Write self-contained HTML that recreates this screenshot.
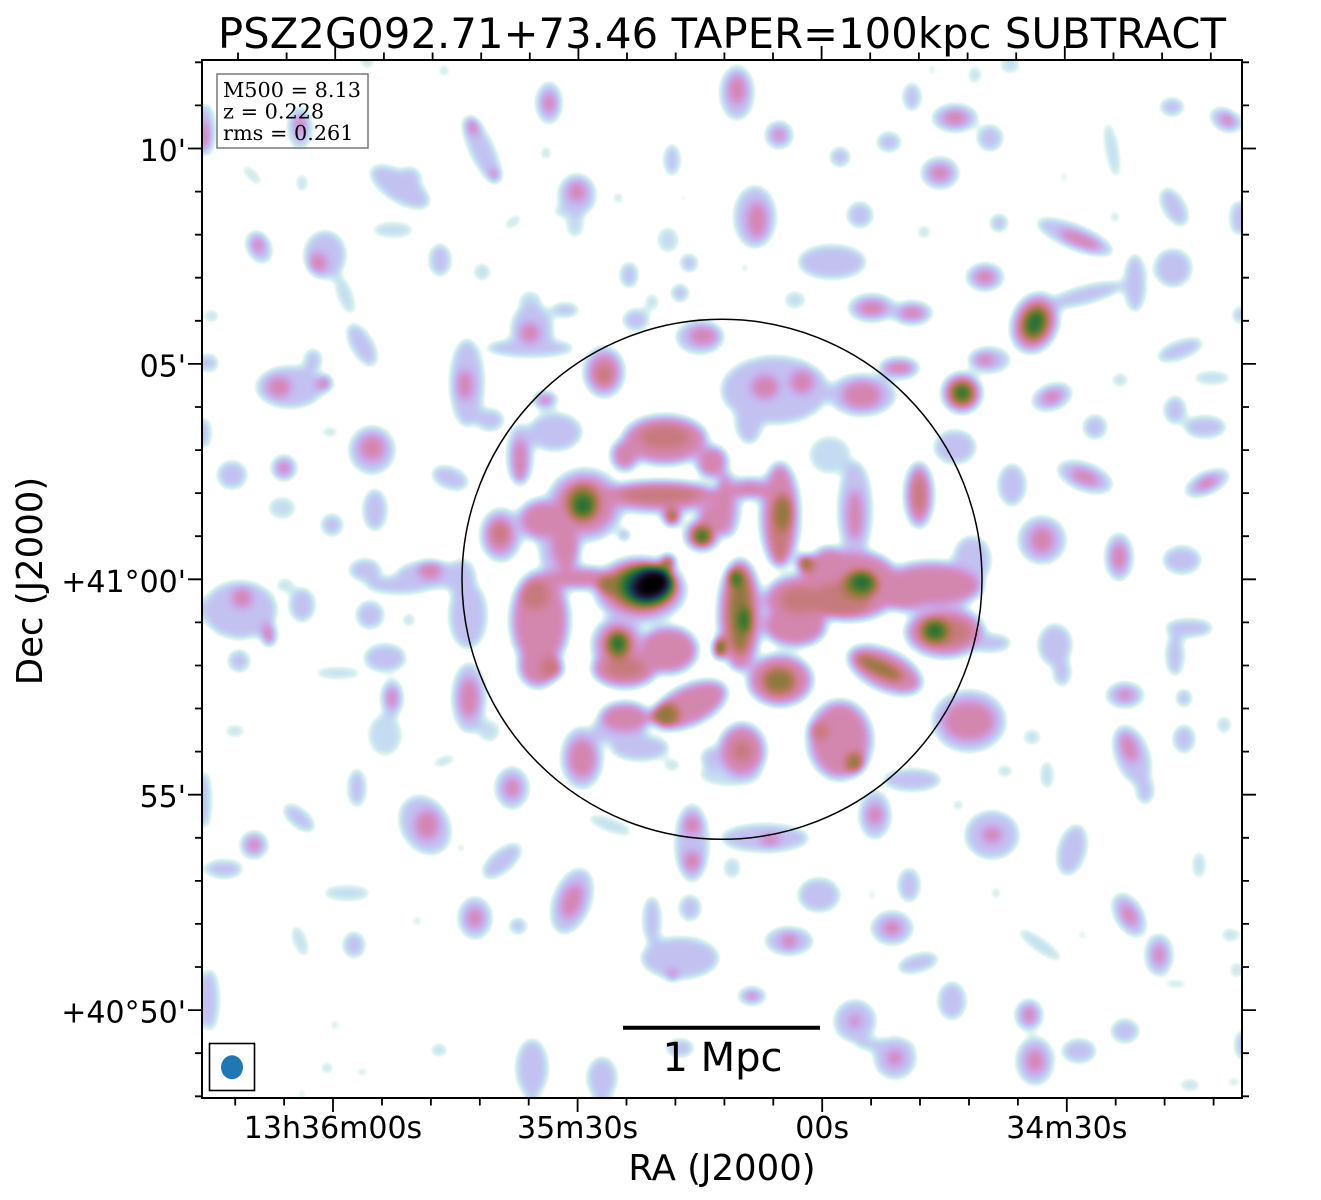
<!DOCTYPE html>
<html><head><meta charset="utf-8"><style>
html,body{margin:0;padding:0;background:#fff;}
svg{display:block;}
.t{font-family:"DejaVu Sans","Liberation Sans",sans-serif;fill:#000;}
.s{font-family:"DejaVu Serif","Liberation Serif",serif;fill:#000;}
</style></head><body>
<svg width="1321" height="1200" viewBox="0 0 1321 1200" xmlns="http://www.w3.org/2000/svg">
<defs>
<clipPath id="clip"><rect x="202" y="60" width="1040" height="1038"/></clipPath>
<filter id="cm" x="202" y="60" width="1040" height="1038" filterUnits="userSpaceOnUse" color-interpolation-filters="sRGB">
<feGaussianBlur in="SourceGraphic" stdDeviation="4.5"/>
<feColorMatrix type="matrix" values="1 0 0 0 0  1 0 0 0 0  1 0 0 0 0  0 0 0 0 1"/>
<feComponentTransfer>
<feFuncR type="table" tableValues="1 1 1 0.855 0.784 0.758 0.775 0.811 0.833 0.810 0.727 0.591 0.428 0.272 0.156 0.094 0.083 0.097 0.103 0.074 0"/>
<feFuncG type="table" tableValues="1 1 1 0.950 0.893 0.813 0.716 0.620 0.541 0.492 0.474 0.476 0.481 0.469 0.429 0.359 0.267 0.173 0.093 0.036 0"/>
<feFuncB type="table" tableValues="1 1 1 0.937 0.943 0.955 0.936 0.862 0.728 0.559 0.391 0.260 0.192 0.189 0.232 0.283 0.308 0.281 0.203 0.097 0"/>
</feComponentTransfer>
</filter>
</defs>
<rect x="0" y="0" width="1321" height="1200" fill="#fff"/>
<g clip-path="url(#clip)">
<g filter="url(#cm)">
<rect x="202" y="60" width="1040" height="1038" fill="#000"/>
<!-- level q -->
<g fill="#383838">
<ellipse cx="367" cy="64" rx="8" ry="6"/>
<ellipse cx="444" cy="71" rx="7" ry="7"/>
<ellipse cx="546" cy="153" rx="7" ry="8"/>
<ellipse cx="252" cy="175" rx="15" ry="6" transform="rotate(45 252 175)"/>
<ellipse cx="302" cy="183" rx="7" ry="11"/>
<ellipse cx="393" cy="230" rx="22" ry="9"/>
<ellipse cx="575" cy="225" rx="10" ry="14"/>
<ellipse cx="560" cy="212" rx="8" ry="6"/>
<ellipse cx="618" cy="198" rx="7" ry="7"/>
<ellipse cx="683" cy="198" rx="5" ry="6"/>
<ellipse cx="513" cy="222" rx="12" ry="6" transform="rotate(-35 513 222)"/>
<ellipse cx="345" cy="295" rx="9" ry="22" transform="rotate(-20 345 295)"/>
<ellipse cx="482" cy="272" rx="10" ry="10"/>
<ellipse cx="668" cy="240" rx="12" ry="14"/>
<ellipse cx="652" cy="302" rx="8" ry="10"/>
<ellipse cx="212" cy="316" rx="8" ry="8"/>
<ellipse cx="330" cy="432" rx="10" ry="6"/>
<ellipse cx="282" cy="508" rx="15" ry="12"/>
<ellipse cx="530" cy="300" rx="12" ry="10"/>
<ellipse cx="975" cy="75" rx="8" ry="10"/>
<ellipse cx="1010" cy="67" rx="12" ry="7"/>
<ellipse cx="932" cy="70" rx="6" ry="6"/>
<ellipse cx="924" cy="232" rx="8" ry="8"/>
<ellipse cx="745" cy="268" rx="6" ry="6"/>
<ellipse cx="1115" cy="217" rx="6" ry="8"/>
<ellipse cx="1112" cy="150" rx="8" ry="30" transform="rotate(-10 1112 150)"/>
<ellipse cx="1064" cy="177" rx="6" ry="6"/>
<ellipse cx="795" cy="300" rx="12" ry="10"/>
<ellipse cx="1212" cy="378" rx="20" ry="8"/>
<ellipse cx="1120" cy="380" rx="10" ry="8"/>
<ellipse cx="285" cy="585" rx="10" ry="8"/>
<ellipse cx="409" cy="620" rx="8" ry="8"/>
<ellipse cx="338" cy="673" rx="25" ry="7"/>
<ellipse cx="235" cy="731" rx="12" ry="7"/>
<ellipse cx="489" cy="731" rx="12" ry="12"/>
<ellipse cx="444" cy="761" rx="14" ry="6" transform="rotate(-20 444 761)"/>
<ellipse cx="461" cy="848" rx="6" ry="6"/>
<ellipse cx="347" cy="893" rx="25" ry="9"/>
<ellipse cx="300" cy="941" rx="8" ry="18" transform="rotate(-20 300 941)"/>
<ellipse cx="417" cy="921" rx="6" ry="7"/>
<ellipse cx="439" cy="1050" rx="10" ry="8"/>
<ellipse cx="327" cy="1068" rx="8" ry="7"/>
<ellipse cx="362" cy="1072" rx="7" ry="6"/>
<ellipse cx="335" cy="1025" rx="6" ry="7"/>
<ellipse cx="610" cy="825" rx="25" ry="8" transform="rotate(20 610 825)"/>
<ellipse cx="672" cy="765" rx="10" ry="7"/>
<ellipse cx="732" cy="868" rx="10" ry="12"/>
<ellipse cx="958" cy="805" rx="7" ry="7"/>
<ellipse cx="1032" cy="737" rx="10" ry="9"/>
<ellipse cx="1005" cy="771" rx="10" ry="7"/>
<ellipse cx="1047" cy="775" rx="8" ry="16"/>
<ellipse cx="1224" cy="725" rx="9" ry="10"/>
<ellipse cx="1199" cy="865" rx="8" ry="15"/>
<ellipse cx="996" cy="893" rx="6" ry="8"/>
<ellipse cx="872" cy="895" rx="6" ry="6"/>
<ellipse cx="1040" cy="945" rx="28" ry="8" transform="rotate(35 1040 945)"/>
<ellipse cx="1082" cy="935" rx="6" ry="6"/>
<ellipse cx="1230" cy="935" rx="10" ry="8"/>
<ellipse cx="1190" cy="1085" rx="12" ry="7"/>
<ellipse cx="1233" cy="1082" rx="7" ry="6"/>
<ellipse cx="1235" cy="970" rx="6" ry="10"/>
<ellipse cx="1176" cy="984" rx="14" ry="5"/>
<ellipse cx="385" cy="735" rx="18" ry="22"/>
<ellipse cx="302" cy="1092" rx="6" ry="5"/>
<ellipse cx="730" cy="775" rx="32" ry="12"/>
<ellipse cx="830" cy="455" rx="22" ry="20"/>
</g>
<!-- level w -->
<g fill="#474747">
<ellipse cx="207" cy="130" rx="9" ry="27"/>
<ellipse cx="300" cy="128" rx="13" ry="22"/>
<ellipse cx="549" cy="103" rx="14" ry="22"/>
<ellipse cx="482" cy="150" rx="38" ry="13" transform="rotate(65 482 150)"/>
<ellipse cx="400" cy="187" rx="35" ry="16" transform="rotate(32 400 187)"/>
<ellipse cx="410" cy="178" rx="12" ry="12"/>
<ellipse cx="577" cy="195" rx="20" ry="22"/>
<ellipse cx="672" cy="160" rx="9" ry="17"/>
<ellipse cx="259" cy="247" rx="13" ry="18" transform="rotate(-25 259 247)"/>
<ellipse cx="325" cy="255" rx="22" ry="25"/>
<ellipse cx="440" cy="260" rx="12" ry="17"/>
<ellipse cx="689" cy="263" rx="10" ry="10"/>
<ellipse cx="629" cy="275" rx="10" ry="14"/>
<ellipse cx="680" cy="293" rx="10" ry="10"/>
<ellipse cx="210" cy="363" rx="9" ry="10"/>
<ellipse cx="362" cy="345" rx="12" ry="25" transform="rotate(-30 362 345)"/>
<ellipse cx="290" cy="387" rx="35" ry="22"/>
<ellipse cx="313" cy="360" rx="10" ry="12"/>
<ellipse cx="467" cy="383" rx="18" ry="45"/>
<ellipse cx="490" cy="420" rx="15" ry="12"/>
<ellipse cx="530" cy="348" rx="45" ry="10"/>
<ellipse cx="532" cy="330" rx="22" ry="28"/>
<ellipse cx="565" cy="310" rx="15" ry="8"/>
<ellipse cx="604" cy="372" rx="22" ry="27"/>
<ellipse cx="545" cy="400" rx="14" ry="10"/>
<ellipse cx="700" cy="337" rx="25" ry="18"/>
<ellipse cx="636" cy="320" rx="14" ry="12"/>
<ellipse cx="206" cy="433" rx="6" ry="16"/>
<ellipse cx="232" cy="475" rx="16" ry="15"/>
<ellipse cx="284" cy="468" rx="14" ry="14"/>
<ellipse cx="372" cy="450" rx="24" ry="25"/>
<ellipse cx="375" cy="510" rx="13" ry="22"/>
<ellipse cx="332" cy="525" rx="12" ry="12"/>
<ellipse cx="450" cy="478" rx="20" ry="12" transform="rotate(20 450 478)"/>
<ellipse cx="520" cy="455" rx="14" ry="32"/>
<ellipse cx="501" cy="535" rx="22" ry="28"/>
<ellipse cx="430" cy="575" rx="35" ry="15"/>
<ellipse cx="365" cy="570" rx="17" ry="12"/>
<ellipse cx="462" cy="580" rx="15" ry="22"/>
<ellipse cx="555" cy="432" rx="28" ry="20"/>
<ellipse cx="737" cy="93" rx="18" ry="28"/>
<ellipse cx="779" cy="135" rx="15" ry="15"/>
<ellipse cx="840" cy="157" rx="11" ry="11"/>
<ellipse cx="889" cy="142" rx="13" ry="11"/>
<ellipse cx="912" cy="97" rx="10" ry="15"/>
<ellipse cx="955" cy="118" rx="24" ry="15"/>
<ellipse cx="990" cy="138" rx="14" ry="14"/>
<ellipse cx="940" cy="173" rx="20" ry="17"/>
<ellipse cx="755" cy="217" rx="22" ry="32"/>
<ellipse cx="832" cy="262" rx="35" ry="18"/>
<ellipse cx="860" cy="215" rx="14" ry="14"/>
<ellipse cx="999" cy="223" rx="10" ry="10"/>
<ellipse cx="1075" cy="237" rx="42" ry="13" transform="rotate(22 1075 237)"/>
<ellipse cx="1174" cy="207" rx="12" ry="22" transform="rotate(-30 1174 207)"/>
<ellipse cx="1172" cy="107" rx="13" ry="10"/>
<ellipse cx="1225" cy="120" rx="17" ry="12" transform="rotate(30 1225 120)"/>
<ellipse cx="1237" cy="218" rx="8" ry="18"/>
<ellipse cx="872" cy="308" rx="25" ry="15"/>
<ellipse cx="912" cy="313" rx="22" ry="13"/>
<ellipse cx="985" cy="277" rx="20" ry="15"/>
<ellipse cx="1035" cy="323" rx="25" ry="33" transform="rotate(20 1035 323)"/>
<ellipse cx="1085" cy="295" rx="40" ry="10" transform="rotate(-15 1085 295)"/>
<ellipse cx="1135" cy="283" rx="12" ry="30"/>
<ellipse cx="1173" cy="268" rx="20" ry="20"/>
<ellipse cx="1180" cy="350" rx="25" ry="10" transform="rotate(-20 1180 350)"/>
<ellipse cx="1237" cy="315" rx="5" ry="10"/>
<ellipse cx="899" cy="368" rx="22" ry="12"/>
<ellipse cx="989" cy="360" rx="22" ry="14"/>
<ellipse cx="962" cy="393" rx="22" ry="22"/>
<ellipse cx="862" cy="395" rx="35" ry="22"/>
<ellipse cx="775" cy="390" rx="55" ry="35"/>
<ellipse cx="749" cy="420" rx="15" ry="25"/>
<ellipse cx="855" cy="510" rx="18" ry="50"/>
<ellipse cx="919" cy="495" rx="16" ry="35"/>
<ellipse cx="955" cy="447" rx="22" ry="18"/>
<ellipse cx="972" cy="560" rx="20" ry="25"/>
<ellipse cx="1052" cy="397" rx="22" ry="14" transform="rotate(-20 1052 397)"/>
<ellipse cx="1095" cy="427" rx="13" ry="13"/>
<ellipse cx="1205" cy="427" rx="22" ry="12"/>
<ellipse cx="1175" cy="410" rx="12" ry="15"/>
<ellipse cx="1085" cy="477" rx="30" ry="15" transform="rotate(20 1085 477)"/>
<ellipse cx="1012" cy="485" rx="15" ry="22"/>
<ellipse cx="1207" cy="483" rx="25" ry="12" transform="rotate(-25 1207 483)"/>
<ellipse cx="1042" cy="540" rx="25" ry="25"/>
<ellipse cx="1119" cy="557" rx="15" ry="25"/>
<ellipse cx="1182" cy="560" rx="20" ry="15"/>
<ellipse cx="240" cy="610" rx="38" ry="30"/>
<ellipse cx="239" cy="661" rx="12" ry="12"/>
<ellipse cx="302" cy="605" rx="14" ry="18"/>
<ellipse cx="370" cy="615" rx="15" ry="15"/>
<ellipse cx="385" cy="658" rx="22" ry="15"/>
<ellipse cx="392" cy="698" rx="12" ry="20"/>
<ellipse cx="468" cy="615" rx="20" ry="35"/>
<ellipse cx="400" cy="585" rx="35" ry="10"/>
<ellipse cx="469" cy="698" rx="18" ry="36"/>
<ellipse cx="512" cy="788" rx="18" ry="22"/>
<ellipse cx="582" cy="758" rx="22" ry="32"/>
<ellipse cx="620" cy="728" rx="28" ry="18"/>
<ellipse cx="640" cy="748" rx="30" ry="14"/>
<ellipse cx="692" cy="843" rx="18" ry="40"/>
<ellipse cx="712" cy="758" rx="12" ry="12"/>
<ellipse cx="357" cy="788" rx="10" ry="20"/>
<ellipse cx="425" cy="825" rx="25" ry="32" transform="rotate(-30 425 825)"/>
<ellipse cx="299" cy="818" rx="20" ry="10" transform="rotate(40 299 818)"/>
<ellipse cx="254" cy="845" rx="15" ry="15"/>
<ellipse cx="224" cy="869" rx="20" ry="10"/>
<ellipse cx="206" cy="800" rx="6" ry="30"/>
<ellipse cx="502" cy="861" rx="25" ry="12" transform="rotate(-40 502 861)"/>
<ellipse cx="475" cy="918" rx="18" ry="22"/>
<ellipse cx="572" cy="901" rx="20" ry="35" transform="rotate(20 572 901)"/>
<ellipse cx="518" cy="926" rx="10" ry="9"/>
<ellipse cx="690" cy="908" rx="12" ry="14"/>
<ellipse cx="680" cy="958" rx="40" ry="22"/>
<ellipse cx="652" cy="920" rx="10" ry="25"/>
<ellipse cx="210" cy="1000" rx="10" ry="32"/>
<ellipse cx="354" cy="945" rx="12" ry="14"/>
<ellipse cx="532" cy="1068" rx="17" ry="30"/>
<ellipse cx="602" cy="1078" rx="16" ry="22"/>
<ellipse cx="680" cy="1048" rx="15" ry="10"/>
<ellipse cx="912" cy="780" rx="30" ry="12"/>
<ellipse cx="875" cy="815" rx="17" ry="25"/>
<ellipse cx="765" cy="838" rx="45" ry="15"/>
<ellipse cx="992" cy="835" rx="28" ry="25"/>
<ellipse cx="1055" cy="645" rx="18" ry="22"/>
<ellipse cx="1062" cy="672" rx="10" ry="15"/>
<ellipse cx="1125" cy="695" rx="20" ry="14"/>
<ellipse cx="1189" cy="628" rx="25" ry="10"/>
<ellipse cx="1175" cy="655" rx="10" ry="22"/>
<ellipse cx="1184" cy="698" rx="9" ry="10"/>
<ellipse cx="1184" cy="739" rx="12" ry="15"/>
<ellipse cx="1132" cy="755" rx="18" ry="32" transform="rotate(-20 1132 755)"/>
<ellipse cx="1145" cy="790" rx="10" ry="15"/>
<ellipse cx="1072" cy="850" rx="15" ry="27" transform="rotate(15 1072 850)"/>
<ellipse cx="819" cy="895" rx="22" ry="18"/>
<ellipse cx="909" cy="885" rx="12" ry="18"/>
<ellipse cx="892" cy="928" rx="22" ry="18"/>
<ellipse cx="789" cy="941" rx="25" ry="15"/>
<ellipse cx="918" cy="963" rx="22" ry="10" transform="rotate(-15 918 963)"/>
<ellipse cx="752" cy="996" rx="15" ry="10"/>
<ellipse cx="1129" cy="915" rx="15" ry="25" transform="rotate(-30 1129 915)"/>
<ellipse cx="1159" cy="955" rx="15" ry="22"/>
<ellipse cx="952" cy="1001" rx="15" ry="20"/>
<ellipse cx="855" cy="1021" rx="22" ry="22"/>
<ellipse cx="895" cy="1058" rx="22" ry="22"/>
<ellipse cx="885" cy="1045" rx="30" ry="7"/>
<ellipse cx="1029" cy="1015" rx="15" ry="17"/>
<ellipse cx="1035" cy="1061" rx="20" ry="25"/>
<ellipse cx="1079" cy="1051" rx="18" ry="13"/>
<ellipse cx="1125" cy="1031" rx="15" ry="13"/>
<ellipse cx="1240" cy="1045" rx="6" ry="15"/>
<ellipse cx="990" cy="643" rx="22" ry="10"/>
<ellipse cx="585" cy="505" rx="40" ry="38"/>
<ellipse cx="560" cy="550" rx="22" ry="28"/>
<ellipse cx="545" cy="520" rx="30" ry="24"/>
<ellipse cx="702" cy="535" rx="20" ry="18"/>
<ellipse cx="624" cy="535" rx="7" ry="7"/>
<ellipse cx="665" cy="440" rx="45" ry="27"/>
<ellipse cx="660" cy="497" rx="64" ry="18"/>
<ellipse cx="625" cy="455" rx="16" ry="18"/>
<ellipse cx="712" cy="462" rx="18" ry="18"/>
<ellipse cx="728" cy="505" rx="14" ry="34"/>
<ellipse cx="780" cy="515" rx="22" ry="55"/>
<ellipse cx="750" cy="488" rx="22" ry="12"/>
<ellipse cx="640" cy="590" rx="48" ry="35"/>
<ellipse cx="618" cy="645" rx="28" ry="30"/>
<ellipse cx="668" cy="650" rx="32" ry="26"/>
<ellipse cx="540" cy="620" rx="32" ry="52"/>
<ellipse cx="538" cy="665" rx="22" ry="25"/>
<ellipse cx="580" cy="578" rx="42" ry="13"/>
<ellipse cx="625" cy="668" rx="35" ry="22"/>
<ellipse cx="625" cy="718" rx="28" ry="18"/>
<ellipse cx="690" cy="705" rx="42" ry="22" transform="rotate(-25 690 705)"/>
<ellipse cx="740" cy="615" rx="24" ry="58"/>
<ellipse cx="795" cy="625" rx="34" ry="24"/>
<ellipse cx="800" cy="600" rx="38" ry="28"/>
<ellipse cx="850" cy="585" rx="54" ry="38"/>
<ellipse cx="932" cy="585" rx="54" ry="26"/>
<ellipse cx="945" cy="632" rx="42" ry="28"/>
<ellipse cx="955" cy="580" rx="25" ry="15"/>
<ellipse cx="885" cy="670" rx="42" ry="22" transform="rotate(25 885 670)"/>
<ellipse cx="780" cy="680" rx="35" ry="28"/>
<ellipse cx="840" cy="740" rx="35" ry="42"/>
<ellipse cx="969" cy="721" rx="38" ry="32"/>
<ellipse cx="742" cy="751" rx="26" ry="30"/>
<ellipse cx="905" cy="595" rx="28" ry="18"/>
<ellipse cx="830" cy="560" rx="20" ry="15"/>
</g>
<!-- level p -->
<g fill="#696969">
<ellipse cx="205" cy="135" rx="5" ry="14"/>
<ellipse cx="300" cy="125" rx="6" ry="9"/>
<ellipse cx="549" cy="103" rx="7" ry="10"/>
<ellipse cx="473" cy="126" rx="7" ry="9"/>
<ellipse cx="495" cy="175" rx="6" ry="6"/>
<ellipse cx="577" cy="192" rx="9" ry="10"/>
<ellipse cx="258" cy="245" rx="6" ry="8"/>
<ellipse cx="318" cy="263" rx="9" ry="10"/>
<ellipse cx="279" cy="387" rx="12" ry="10"/>
<ellipse cx="325" cy="383" rx="8" ry="9"/>
<ellipse cx="465" cy="385" rx="8" ry="15"/>
<ellipse cx="530" cy="333" rx="10" ry="10"/>
<ellipse cx="604" cy="372" rx="15" ry="18"/>
<ellipse cx="545" cy="400" rx="7" ry="6"/>
<ellipse cx="703" cy="336" rx="14" ry="9"/>
<ellipse cx="284" cy="468" rx="7" ry="7"/>
<ellipse cx="372" cy="448" rx="13" ry="13"/>
<ellipse cx="520" cy="460" rx="8" ry="22"/>
<ellipse cx="500" cy="535" rx="14" ry="18"/>
<ellipse cx="430" cy="570" rx="12" ry="10"/>
<ellipse cx="737" cy="90" rx="9" ry="15"/>
<ellipse cx="779" cy="135" rx="6" ry="6"/>
<ellipse cx="955" cy="118" rx="12" ry="8"/>
<ellipse cx="940" cy="173" rx="10" ry="8"/>
<ellipse cx="757" cy="220" rx="10" ry="18"/>
<ellipse cx="1080" cy="240" rx="22" ry="7" transform="rotate(22 1080 240)"/>
<ellipse cx="1228" cy="120" rx="8" ry="6" transform="rotate(30 1228 120)"/>
<ellipse cx="872" cy="308" rx="14" ry="8"/>
<ellipse cx="912" cy="313" rx="12" ry="7"/>
<ellipse cx="985" cy="277" rx="10" ry="8"/>
<ellipse cx="1035" cy="323" rx="20" ry="26" transform="rotate(20 1035 323)"/>
<ellipse cx="899" cy="368" rx="14" ry="7"/>
<ellipse cx="985" cy="360" rx="10" ry="6"/>
<ellipse cx="962" cy="393" rx="18" ry="18"/>
<ellipse cx="862" cy="395" rx="20" ry="14"/>
<ellipse cx="765" cy="387" rx="14" ry="12"/>
<ellipse cx="802" cy="382" rx="12" ry="12"/>
<ellipse cx="855" cy="515" rx="8" ry="25"/>
<ellipse cx="919" cy="495" rx="12" ry="28"/>
<ellipse cx="1052" cy="397" rx="10" ry="7" transform="rotate(-20 1052 397)"/>
<ellipse cx="1085" cy="477" rx="15" ry="7" transform="rotate(20 1085 477)"/>
<ellipse cx="1207" cy="483" rx="12" ry="6" transform="rotate(-25 1207 483)"/>
<ellipse cx="1042" cy="540" rx="12" ry="14"/>
<ellipse cx="1119" cy="557" rx="8" ry="14"/>
<ellipse cx="242" cy="598" rx="10" ry="10"/>
<ellipse cx="269" cy="635" rx="8" ry="12"/>
<ellipse cx="392" cy="698" rx="6" ry="10"/>
<ellipse cx="469" cy="698" rx="10" ry="20"/>
<ellipse cx="512" cy="788" rx="8" ry="10"/>
<ellipse cx="582" cy="758" rx="14" ry="20"/>
<ellipse cx="692" cy="825" rx="9" ry="10"/>
<ellipse cx="692" cy="861" rx="9" ry="10"/>
<ellipse cx="427" cy="825" rx="12" ry="15"/>
<ellipse cx="254" cy="845" rx="7" ry="7"/>
<ellipse cx="475" cy="918" rx="8" ry="10"/>
<ellipse cx="572" cy="901" rx="10" ry="18" transform="rotate(20 572 901)"/>
<ellipse cx="672" cy="976" rx="6" ry="6"/>
<ellipse cx="875" cy="815" rx="8" ry="10"/>
<ellipse cx="770" cy="840" rx="10" ry="6"/>
<ellipse cx="992" cy="835" rx="10" ry="8"/>
<ellipse cx="1125" cy="695" rx="8" ry="6"/>
<ellipse cx="1129" cy="748" rx="8" ry="15" transform="rotate(-20 1129 748)"/>
<ellipse cx="892" cy="928" rx="9" ry="8"/>
<ellipse cx="789" cy="941" rx="8" ry="8"/>
<ellipse cx="752" cy="996" rx="6" ry="5"/>
<ellipse cx="1129" cy="915" rx="7" ry="12" transform="rotate(-30 1129 915)"/>
<ellipse cx="1159" cy="955" rx="6" ry="10"/>
<ellipse cx="855" cy="1021" rx="6" ry="6"/>
<ellipse cx="895" cy="1058" rx="8" ry="8"/>
<ellipse cx="1029" cy="1015" rx="7" ry="9"/>
<ellipse cx="1035" cy="1061" rx="9" ry="12"/>
<ellipse cx="585" cy="505" rx="30" ry="28"/>
<ellipse cx="545" cy="520" rx="24" ry="18"/>
<ellipse cx="565" cy="545" rx="14" ry="24"/>
<ellipse cx="702" cy="535" rx="15" ry="14"/>
<ellipse cx="624" cy="535" rx="4" ry="4"/>
<ellipse cx="665" cy="440" rx="40" ry="22"/>
<ellipse cx="660" cy="495" rx="60" ry="14"/>
<ellipse cx="625" cy="455" rx="12" ry="14"/>
<ellipse cx="712" cy="462" rx="14" ry="15"/>
<ellipse cx="715" cy="518" rx="18" ry="14"/>
<ellipse cx="724" cy="505" rx="10" ry="30"/>
<ellipse cx="780" cy="515" rx="16" ry="50"/>
<ellipse cx="750" cy="490" rx="20" ry="9"/>
<ellipse cx="640" cy="588" rx="40" ry="28"/>
<ellipse cx="618" cy="645" rx="20" ry="22"/>
<ellipse cx="668" cy="650" rx="28" ry="22"/>
<ellipse cx="540" cy="620" rx="26" ry="46"/>
<ellipse cx="538" cy="665" rx="18" ry="20"/>
<ellipse cx="580" cy="578" rx="40" ry="10"/>
<ellipse cx="625" cy="668" rx="32" ry="18"/>
<ellipse cx="625" cy="718" rx="24" ry="14"/>
<ellipse cx="690" cy="705" rx="38" ry="18" transform="rotate(-25 690 705)"/>
<ellipse cx="740" cy="615" rx="20" ry="55"/>
<ellipse cx="795" cy="625" rx="30" ry="20"/>
<ellipse cx="800" cy="600" rx="34" ry="22"/>
<ellipse cx="850" cy="585" rx="50" ry="33"/>
<ellipse cx="932" cy="585" rx="48" ry="20"/>
<ellipse cx="945" cy="632" rx="36" ry="22"/>
<ellipse cx="950" cy="583" rx="18" ry="10"/>
<ellipse cx="885" cy="670" rx="38" ry="17" transform="rotate(25 885 670)"/>
<ellipse cx="780" cy="680" rx="30" ry="24"/>
<ellipse cx="840" cy="740" rx="28" ry="36"/>
<ellipse cx="969" cy="721" rx="26" ry="20"/>
<ellipse cx="742" cy="751" rx="21" ry="24"/>
<ellipse cx="905" cy="595" rx="25" ry="15"/>
<ellipse cx="830" cy="560" rx="16" ry="12"/>
<ellipse cx="672" cy="517" rx="10" ry="10"/>
</g>
<!-- level p2 -->
<g fill="#787878">
<ellipse cx="604" cy="375" rx="8" ry="10"/>
<ellipse cx="500" cy="533" rx="8" ry="10"/>
<ellipse cx="919" cy="495" rx="7" ry="18"/>
<ellipse cx="665" cy="437" rx="25" ry="12"/>
<ellipse cx="742" cy="751" rx="10" ry="10"/>
<ellipse cx="819" cy="731" rx="10" ry="10"/>
<ellipse cx="535" cy="595" rx="15" ry="15"/>
<ellipse cx="552" cy="668" rx="12" ry="12"/>
<ellipse cx="800" cy="600" rx="20" ry="14"/>
<ellipse cx="945" cy="632" rx="25" ry="14"/>
<ellipse cx="625" cy="668" rx="20" ry="10"/>
<ellipse cx="840" cy="600" rx="30" ry="18"/>
<ellipse cx="660" cy="495" rx="40" ry="8"/>
<ellipse cx="780" cy="530" rx="10" ry="35"/>
</g>
<!-- level o -->
<g fill="#8f8f8f">
<ellipse cx="583" cy="503" rx="16" ry="18"/>
<ellipse cx="672" cy="517" rx="7" ry="7"/>
<ellipse cx="702" cy="535" rx="10" ry="10"/>
<ellipse cx="643" cy="587" rx="32" ry="22"/>
<ellipse cx="615" cy="585" rx="18" ry="10"/>
<ellipse cx="668" cy="562" rx="8" ry="8"/>
<ellipse cx="618" cy="645" rx="12" ry="14"/>
<ellipse cx="665" cy="715" rx="14" ry="12"/>
<ellipse cx="740" cy="612" rx="11" ry="42"/>
<ellipse cx="719" cy="648" rx="6" ry="12"/>
<ellipse cx="783" cy="513" rx="9" ry="18"/>
<ellipse cx="805" cy="563" rx="9" ry="9"/>
<ellipse cx="860" cy="585" rx="18" ry="14"/>
<ellipse cx="935" cy="631" rx="15" ry="13"/>
<ellipse cx="880" cy="668" rx="25" ry="7" transform="rotate(25 880 668)"/>
<ellipse cx="779" cy="681" rx="16" ry="13"/>
<ellipse cx="855" cy="763" rx="9" ry="10"/>
<ellipse cx="1035" cy="323" rx="13" ry="18" transform="rotate(20 1035 323)"/>
<ellipse cx="962" cy="393" rx="12" ry="12"/>
</g>
<!-- level g -->
<g fill="#b3b3b3">
<ellipse cx="583" cy="505" rx="9" ry="10"/>
<ellipse cx="702" cy="537" rx="6" ry="6"/>
<ellipse cx="646" cy="585" rx="26" ry="18"/>
<ellipse cx="618" cy="643" rx="7" ry="9"/>
<ellipse cx="735" cy="578" rx="6" ry="8"/>
<ellipse cx="745" cy="620" rx="6" ry="12"/>
<ellipse cx="719" cy="648" rx="4" ry="8"/>
<ellipse cx="862" cy="582" rx="11" ry="9"/>
<ellipse cx="935" cy="631" rx="9" ry="8"/>
<ellipse cx="1035" cy="323" rx="8" ry="12" transform="rotate(20 1035 323)"/>
<ellipse cx="962" cy="393" rx="7" ry="7"/>
</g>
<ellipse cx="650" cy="585" rx="22" ry="16" transform="rotate(-20 650 585)" fill="#d9d9d9"/>
<ellipse cx="652" cy="584" rx="17" ry="12" transform="rotate(-25 652 584)" fill="#ffffff"/>
</g>
</g>
<!-- overlays inside plot -->
<circle cx="722" cy="579.3" r="260" fill="none" stroke="#000" stroke-width="1.5"/>
<rect x="217" y="74" width="151" height="74" fill="none" stroke="#808080" stroke-width="1.6"/>
<text class="s" x="223" y="97" font-size="20.8">M500 = 8.13</text>
<text class="s" x="223" y="118.5" font-size="20.8">z = 0.228</text>
<text class="s" x="223" y="140" font-size="20.8">rms = 0.261</text>
<rect x="209.5" y="1043.5" width="45" height="47" fill="#fff" stroke="#000" stroke-width="1.6"/>
<ellipse cx="232" cy="1067.3" rx="11" ry="12" fill="#1f77b4"/>
<line x1="623" y1="1027.7" x2="820" y2="1027.7" stroke="#000" stroke-width="4"/>
<text class="t" x="722.5" y="1071" font-size="40" text-anchor="middle">1 Mpc</text>
<!-- spines -->
<rect x="202" y="60" width="1040" height="1038" fill="none" stroke="#000" stroke-width="2"/>
<!-- ticks -->
<g stroke="#000" stroke-width="1.8" fill="none">
<path d="M202 148.5H188M202 363.9H188M202 579.3H188M202 794.7H188M202 1010.1H188"/>
<path d="M1242 148.5H1256M1242 363.9H1256M1242 579.3H1256M1242 794.7H1256M1242 1010.1H1256"/>
<path d="M202 62.3H195M202 105.4H195M202 191.6H195M202 234.7H195M202 277.7H195M202 320.8H195M202 407H195M202 450.1H195M202 493.1H195M202 536.2H195M202 622.4H195M202 665.5H195M202 708.5H195M202 751.6H195M202 837.8H195M202 880.9H195M202 923.9H195M202 967H195M202 1053.2H195M202 1096.3H195"/>
<path d="M1242 62.3H1249M1242 105.4H1249M1242 191.6H1249M1242 234.7H1249M1242 277.7H1249M1242 320.8H1249M1242 407H1249M1242 450.1H1249M1242 493.1H1249M1242 536.2H1249M1242 622.4H1249M1242 665.5H1249M1242 708.5H1249M1242 751.6H1249M1242 837.8H1249M1242 880.9H1249M1242 923.9H1249M1242 967H1249M1242 1053.2H1249M1242 1096.3H1249"/>
<path d="M333 1098V1112M577.6 1098V1112M822.2 1098V1112M1066.8 1098V1112"/>
<path d="M235.2 1098V1105.5M284.1 1098V1105.5M382 1098V1105.5M430.9 1098V1105.5M479.8 1098V1105.5M528.7 1098V1105.5M626.5 1098V1105.5M675.4 1098V1105.5M724.4 1098V1105.5M773.3 1098V1105.5M871.1 1098V1105.5M920 1098V1105.5M969 1098V1105.5M1017.9 1098V1105.5M1115.7 1098V1105.5M1164.6 1098V1105.5M1213.6 1098V1105.5"/>
<path d="M335.2 60V46M578.4 60V46M821.6 60V46M1064.8 60V46"/>
<path d="M238 60V52.5M286.6 60V52.5M383.9 60V52.5M432.6 60V52.5M481.2 60V52.5M529.8 60V52.5M627 60V52.5M675.7 60V52.5M724.4 60V52.5M773 60V52.5M870.2 60V52.5M918.9 60V52.5M967.6 60V52.5M1016.2 60V52.5M1113.5 60V52.5M1162.1 60V52.5M1210.8 60V52.5"/>
</g>
<!-- tick labels -->
<g class="t" font-size="30" text-anchor="end">
<text x="186" y="161">10'</text>
<text x="186" y="376.4">05'</text>
<text x="186" y="591.8">+41°00'</text>
<text x="186" y="807.2">55'</text>
<text x="186" y="1022.6">+40°50'</text>
</g>
<g class="t" font-size="30" text-anchor="middle">
<text x="333" y="1138">13h36m00s</text>
<text x="577.6" y="1138">35m30s</text>
<text x="822.2" y="1138">00s</text>
<text x="1066.8" y="1138">34m30s</text>
</g>
<text class="t" x="722" y="1180" font-size="35.5" text-anchor="middle">RA (J2000)</text>
<text class="t" font-size="35.5" text-anchor="middle" transform="translate(42 581) rotate(-90)">Dec (J2000)</text>
<text class="t" x="722" y="48" font-size="41.6" text-anchor="middle" textLength="1008" lengthAdjust="spacing">PSZ2G092.71+73.46 TAPER=100kpc SUBTRACT</text>
</svg>
</body></html>
